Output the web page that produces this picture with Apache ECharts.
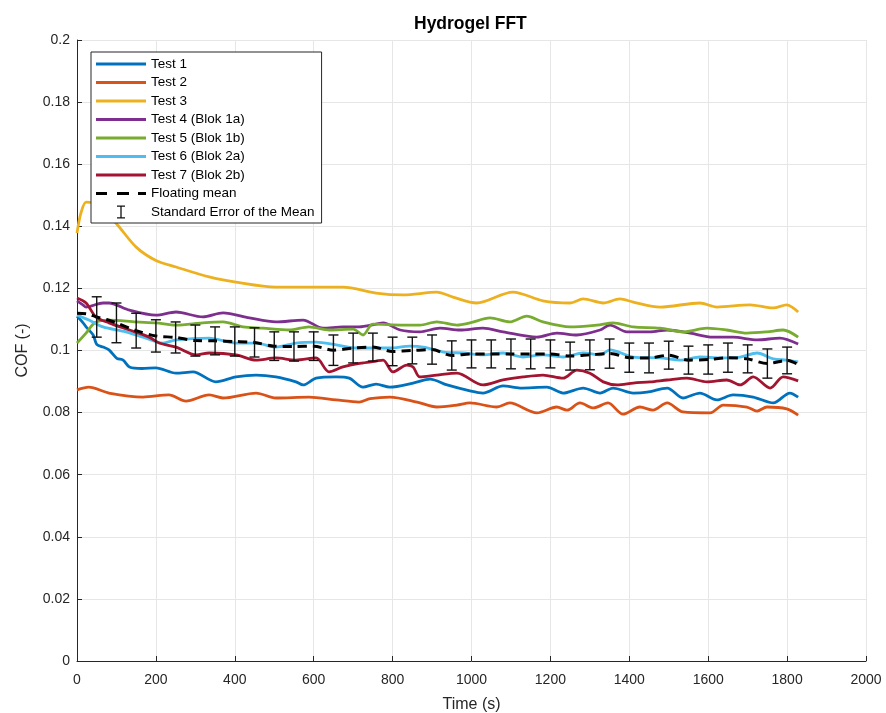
<!DOCTYPE html>
<html>
<head>
<meta charset="utf-8">
<title>Hydrogel FFT</title>
<script src="https://cdn.jsdelivr.net/npm/echarts@6/dist/echarts.min.js"></script>
<style>
  html, body { margin: 0; padding: 0; background: #fff; }
  #chart { width: 886px; height: 713px; }
</style>
</head>
<body>
<div id="chart"></div>
<script>
// Coefficient of friction over time, [time (s), COF]
const test1 = [[0,0.1110],[15,0.1090],[23,0.1076],[41,0.1050],[50,0.1020],[66,0.1011],[81,0.1002],[101,0.0975],[117,0.0969],[133,0.0947],[165,0.0942],[200,0.0944],[251,0.0927],[294,0.0931],[352,0.0899],[403,0.0915],[454,0.0921],[504,0.0915],[555,0.0899],[573,0.0889],[606,0.0911],[657,0.0915],[690,0.0911],[725,0.0882],[758,0.0892],[793,0.0882],[852,0.0895],[895,0.0908],[938,0.0889],[996,0.0870],[1029,0.0863],[1080,0.0886],[1123,0.0879],[1191,0.0882],[1232,0.0863],[1283,0.0879],[1326,0.0863],[1359,0.0879],[1410,0.0863],[1445,0.0866],[1496,0.0879],[1536,0.0847],[1579,0.0863],[1622,0.0841],[1663,0.0857],[1714,0.0850],[1765,0.0831],[1807,0.0863],[1828,0.0850]];
const test2 = [[0,0.0873],[30,0.0882],[81,0.0863],[167,0.0850],[233,0.0857],[276,0.0837],[335,0.0857],[370,0.0847],[454,0.0863],[504,0.0847],[588,0.0850],[657,0.0841],[715,0.0834],[743,0.0845],[793,0.0850],[862,0.0834],[912,0.0818],[963,0.0824],[996,0.0831],[1064,0.0818],[1097,0.0831],[1166,0.0799],[1216,0.0818],[1242,0.0808],[1275,0.0831],[1309,0.0815],[1346,0.0831],[1384,0.0795],[1427,0.0818],[1460,0.0808],[1496,0.0831],[1536,0.0802],[1605,0.0799],[1638,0.0824],[1698,0.0818],[1724,0.0805],[1749,0.0818],[1799,0.0812],[1828,0.0792]];
const test3 = [[0,0.1378],[10,0.1443],[23,0.1478],[40,0.1476],[70,0.1445],[99,0.1410],[150,0.1333],[200,0.1290],[251,0.1269],[335,0.1237],[403,0.1220],[504,0.1204],[588,0.1204],[674,0.1204],[758,0.1185],[827,0.1179],[912,0.1188],[953,0.1172],[1013,0.1153],[1105,0.1188],[1181,0.1160],[1250,0.1153],[1283,0.1166],[1334,0.1153],[1376,0.1166],[1410,0.1156],[1478,0.1140],[1579,0.1153],[1622,0.1140],[1706,0.1147],[1765,0.1137],[1799,0.1147],[1828,0.1124]];
const test4 = [[0,0.1160],[15,0.1147],[23,0.1140],[66,0.1153],[81,0.1153],[133,0.1130],[200,0.1114],[251,0.1124],[319,0.1108],[370,0.1121],[437,0.1105],[504,0.1092],[573,0.1098],[624,0.1072],[674,0.1076],[715,0.1076],[758,0.1085],[776,0.1089],[819,0.1066],[869,0.1060],[920,0.1072],[971,0.1066],[1029,0.1072],[1080,0.1060],[1166,0.1043],[1216,0.1056],[1267,0.1050],[1326,0.1066],[1351,0.1082],[1394,0.1060],[1453,0.1060],[1496,0.1066],[1554,0.1056],[1612,0.1043],[1663,0.1043],[1724,0.1034],[1782,0.1040],[1828,0.1021]];
const test5 = [[0,0.1024],[23,0.1056],[46,0.1090],[81,0.1098],[150,0.1092],[200,0.1089],[251,0.1082],[319,0.1089],[370,0.1092],[421,0.1076],[471,0.1072],[538,0.1066],[588,0.1076],[639,0.1066],[700,0.1069],[725,0.1050],[750,0.1085],[827,0.1082],[869,0.1082],[912,0.1092],[963,0.1082],[996,0.1089],[1047,0.1105],[1097,0.1092],[1140,0.1111],[1181,0.1092],[1250,0.1076],[1318,0.1082],[1359,0.1089],[1410,0.1076],[1478,0.1072],[1536,0.1060],[1597,0.1072],[1647,0.1066],[1698,0.1056],[1749,0.1060],[1790,0.1066],[1828,0.1043]];
const test6 = [[0,0.1114],[30,0.1098],[66,0.1076],[124,0.1060],[167,0.1043],[218,0.1024],[251,0.1034],[335,0.1040],[403,0.1024],[454,0.1024],[504,0.1011],[555,0.1024],[606,0.1027],[657,0.1018],[707,0.1008],[758,0.1008],[793,0.1008],[844,0.1014],[878,0.1011],[929,0.0995],[979,0.0992],[1029,0.0986],[1080,0.0992],[1131,0.0979],[1181,0.0986],[1232,0.0979],[1283,0.0992],[1326,0.0986],[1351,0.1002],[1410,0.0979],[1478,0.0976],[1529,0.0969],[1579,0.0979],[1630,0.0976],[1681,0.0979],[1724,0.0992],[1765,0.0973],[1799,0.0969],[1828,0.0963]];
const test7 = [[0,0.1169],[23,0.1153],[48,0.1108],[81,0.1089],[133,0.1066],[183,0.1043],[208,0.1024],[251,0.1011],[302,0.0986],[335,0.0992],[403,0.0986],[454,0.0969],[504,0.0976],[555,0.0969],[606,0.0976],[639,0.0931],[674,0.0947],[725,0.0960],[758,0.0966],[776,0.0969],[801,0.0931],[836,0.0953],[852,0.0947],[869,0.0915],[912,0.0921],[963,0.0927],[1029,0.0889],[1080,0.0905],[1131,0.0915],[1181,0.0921],[1232,0.0911],[1267,0.0937],[1300,0.0927],[1334,0.0899],[1369,0.0889],[1410,0.0895],[1453,0.0899],[1496,0.0905],[1546,0.0911],[1597,0.0899],[1647,0.0905],[1681,0.0889],[1714,0.0915],[1757,0.0879],[1790,0.0915],[1828,0.0902]];

// Floating mean of all tests
const floatingMean = [[0,0.1120],[25,0.1118],[50,0.1108],[75,0.1100],[100,0.1089],[150,0.1064],[200,0.1047],[250,0.1042],[300,0.1032],[350,0.1031],[400,0.1029],[450,0.1026],[500,0.1014],[550,0.1013],[600,0.1014],[650,0.1001],[700,0.1008],[750,0.1011],[800,0.0997],[850,0.1000],[900,0.1003],[950,0.0984],[1000,0.0989],[1050,0.0989],[1100,0.0989],[1150,0.0989],[1200,0.0989],[1250,0.0982],[1300,0.0986],[1350,0.0990],[1400,0.0977],[1450,0.0976],[1500,0.0985],[1550,0.0969],[1600,0.0971],[1650,0.0977],[1700,0.0973],[1750,0.0958],[1800,0.0968],[1828,0.0955]];

// Standard error of the mean, sampled every 50 s
const semTimes = [50,100,150,200,250,300,350,400,450,500,550,600,650,700,750,800,850,900,950,1000,1050,1100,1150,1200,1250,1300,1350,1400,1450,1500,1550,1600,1650,1700,1750,1800];
const semMean  = [0.1108,0.1089,0.1064,0.1047,0.1042,0.1032,0.1031,0.1029,0.1026,0.1014,0.1013,0.1014,0.1001,0.1008,0.1011,0.0997,0.1000,0.1003,0.0984,0.0989,0.0989,0.0989,0.0989,0.0989,0.0982,0.0986,0.0990,0.0977,0.0976,0.0985,0.0969,0.0971,0.0977,0.0973,0.0958,0.0968];
const semError = [0.0065,0.0064,0.0056,0.0052,0.0050,0.0050,0.0045,0.0047,0.0047,0.0046,0.0047,0.0046,0.0049,0.0048,0.0045,0.0046,0.0043,0.0047,0.0047,0.0045,0.0045,0.0048,0.0048,0.0045,0.0045,0.0048,0.0047,0.0047,0.0048,0.0045,0.0045,0.0047,0.0047,0.0045,0.0047,0.0043];

const seriesNames = ['Test 1','Test 2','Test 3','Test 4 (Blok 1a)','Test 5 (Blok 1b)','Test 6 (Blok 2a)','Test 7 (Blok 2b)'];
const seriesData = [test1, test2, test3, test4, test5, test6, test7];
const seriesColors = ['#0072BD','#D95319','#EDB120','#7E2F8E','#77AC30','#4DBEEE','#A2142F'];
const meanName = 'Floating mean';
const semName = 'Standard Error of the Mean';
const xTicks = { min: 0, max: 2000, step: 200 };
const yTicks = { min: 0, max: 0.2, step: 0.02 };

const axisColor = '#262626';
const gridColor = '#e6e6e6';
const font = 'Liberation Sans, Arial, Helvetica, sans-serif';

const semBars = semTimes.map((t, i) => [t, semMean[i], semError[i]]);

// Legend glyphs drawn in a 50 x 14 box (the two zero-area points pin the box size)
const box = 'M0,0L0,0.01Z M50,14L50,13.99Z ';
const solidIcon = 'path://' + box + 'M0,5.5L50,5.5L50,8.5L0,8.5Z';
const dashIcon = 'path://' + box + 'M0,5.5L11,5.5L11,8.5L0,8.5Z M21,5.5L33,5.5L33,8.5L21,8.5Z M42,5.5L50,5.5L50,8.5L42,8.5Z';
const errorIcon = 'path://' + box + 'M21,0.5L29,0.5L29,1.8L25.65,1.8L25.65,12.2L29,12.2L29,13.5L21,13.5L21,12.2L24.35,12.2L24.35,1.8L21,1.8Z';

const lineSeries = seriesData.map((d, i) => ({
  name: seriesNames[i],
  type: 'line',
  data: d,
  symbol: 'none',
  smooth: 0.3,
  color: seriesColors[i],
  lineStyle: { width: 2.8, color: seriesColors[i] },
  z: 2
}));

const chart = echarts.init(document.getElementById('chart'), null, { renderer: 'canvas' });
chart.setOption({
  backgroundColor: '#fff',
  animation: false,
  title: {
    text: 'Hydrogel FFT',
    left: 409,
    top: 10,
    textStyle: { fontFamily: font, fontSize: 17.5, fontWeight: 'bold', color: '#000' }
  },
  grid: { left: 77, right: 20, top: 40, bottom: 52, containLabel: false, outerBoundsMode: 'none' },
  legend: {
    orient: 'vertical',
    left: 91,
    top: 52,
    padding: [5, 7, 4, 5],
    itemWidth: 50,
    itemHeight: 14,
    itemGap: 4.5,
    backgroundColor: '#fff',
    borderColor: axisColor,
    borderWidth: 1,
    itemStyle: { borderWidth: 0 },
    textStyle: { fontFamily: font, fontSize: 13.5, lineHeight: 14, color: '#000' },
    data: seriesNames.map(n => ({ name: n, icon: solidIcon }))
      .concat([{ name: meanName, icon: dashIcon }, { name: semName, icon: errorIcon }]),
    z: 10
  },
  xAxis: {
    type: 'value',
    min: xTicks.min, max: xTicks.max, interval: xTicks.step,
    name: 'Time (s)',
    nameLocation: 'middle',
    nameGap: 36,
    nameTextStyle: { fontFamily: font, fontSize: 16, color: axisColor },
    axisLine: { show: true, lineStyle: { color: axisColor, width: 1 } },
    axisTick: { show: true, inside: true, length: 5, lineStyle: { color: axisColor } },
    axisLabel: { fontFamily: font, fontSize: 14, color: axisColor, margin: 12, formatter: v => String(v) },
    splitLine: { show: true, lineStyle: { color: gridColor, width: 1 } }
  },
  yAxis: {
    type: 'value',
    min: yTicks.min, max: yTicks.max, interval: yTicks.step,
    name: 'COF (-)',
    nameLocation: 'middle',
    nameGap: 46,
    nameTextStyle: { fontFamily: font, fontSize: 16, color: axisColor },
    axisLine: { show: true, lineStyle: { color: axisColor, width: 1 } },
    axisTick: { show: true, inside: true, length: 5, lineStyle: { color: axisColor } },
    axisLabel: { fontFamily: font, fontSize: 14, color: axisColor, margin: 7 },
    splitLine: { show: true, lineStyle: { color: gridColor, width: 1 } }
  },
  series: lineSeries.concat([
    {
      name: meanName,
      type: 'line',
      data: floatingMean,
      symbol: 'none',
      smooth: 0.3,
      color: '#000',
      lineStyle: { width: 3, color: '#000', type: [9, 6] },
      z: 3
    },
    {
      name: semName,
      type: 'custom',
      data: semBars,
      color: '#111',
      itemStyle: { color: '#111' },
      encode: { x: 0, y: 1 },
      z: 4,
      renderItem: function (params, api) {
        const t = api.value(0), m = api.value(1), e = api.value(2);
        const top = api.coord([t, m + e]);
        const bot = api.coord([t, m - e]);
        const cap = 5;
        const st = { stroke: '#111', lineWidth: 1.4 };
        return {
          type: 'group',
          children: [
            { type: 'line', shape: { x1: top[0], y1: top[1], x2: bot[0], y2: bot[1] }, style: st },
            { type: 'line', shape: { x1: top[0] - cap, y1: top[1], x2: top[0] + cap, y2: top[1] }, style: st },
            { type: 'line', shape: { x1: bot[0] - cap, y1: bot[1], x2: bot[0] + cap, y2: bot[1] }, style: st }
          ]
        };
      }
    }
  ])
});
</script>
</body>
</html>
